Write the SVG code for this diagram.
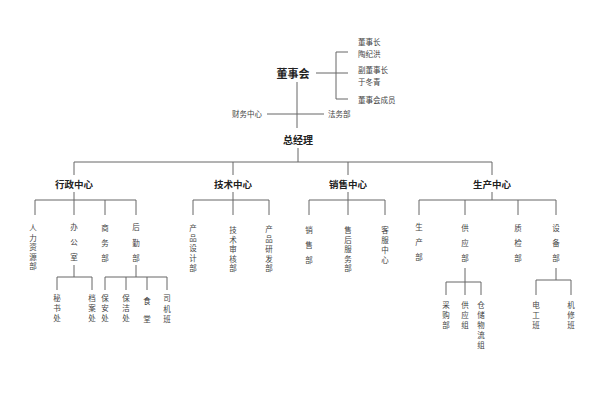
<svg xmlns="http://www.w3.org/2000/svg" width="600" height="415" viewBox="0 0 600 415">
<style>
.ln{stroke:#666;stroke-width:1;fill:none}
.h1{font-family:"Noto Sans CJK SC",sans-serif;font-weight:bold;fill:#222;text-anchor:middle}
.s{font-family:"Noto Sans CJK SC",sans-serif;font-size:7.5px;fill:#444}
.v{font-family:"Noto Sans CJK SC",sans-serif;font-size:7.5px;fill:#444;text-anchor:middle}
</style>
<rect width="600" height="415" fill="#fff"/>
<g id="connectors" class="ln">
<path d="M316,73H348M336,52V99M336,52H348M336,99H348"/>
<path d="M297,82V128M267,114H324"/>
<path d="M298,148V162M74,162H492"/>
<path d="M74,162V175M233,162V175M348,162V175M492,162V175"/>
<path d="M74,192V200M233,192V200M348,192V200M492,192V200"/>
<path d="M35,200H136M35,200V215M74,200V215M105,200V215M136,200V215"/>
<path d="M193,200H269M193,200V215M233,200V215M269,200V215"/>
<path d="M309,200H385M309,200V215M348,200V215M385,200V215"/>
<path d="M419,200H556M419,200V215M465,200V215M518,200V215M556,200V215"/>
<path d="M74,265V277M57,277H92M57,277V290M92,277V290"/>
<path d="M136,265V277M105,277H167M105,277V290M126,277V290M147,277V290M167,277V290"/>
<path d="M465,268V282M446,282H481M446,282V295M465,282V295M481,282V295"/>
<path d="M556,268V280M536,280H571M536,280V295M571,280V295"/>
</g>
<g id="board"><text class="h1" x="293" y="78" font-size="11">董事会</text></g>
<g id="board-members">
<text class="s" x="358" y="45">董事长</text>
<text class="s" x="358" y="57">陶纪洪</text>
<text class="s" x="358" y="73">副董事长</text>
<text class="s" x="358" y="85">于冬青</text>
<text class="s" x="358" y="103">董事会成员</text>
</g>
<g id="finance"><text class="s" x="262" y="117" font-size="8.5" text-anchor="end">财务中心</text></g>
<g id="legal"><text class="s" x="328" y="117" font-size="8.5">法务部</text></g>
<g id="gm"><text class="h1" x="298" y="144" font-size="10">总经理</text></g>
<g id="admin"><text class="h1" x="74" y="187.5" font-size="9.5">行政中心</text></g>
<g id="tech"><text class="h1" x="233" y="187.5" font-size="9.5">技术中心</text></g>
<g id="sales"><text class="h1" x="348" y="187.5" font-size="9.5">销售中心</text></g>
<g id="prod"><text class="h1" x="492" y="187.5" font-size="9.5">生产中心</text></g>
<g id="hr"><text class="v"><tspan x="33" y="231">人</tspan><tspan x="33" y="240.5">力</tspan><tspan x="33" y="250">资</tspan><tspan x="33" y="259.5">源</tspan><tspan x="33" y="269">部</tspan></text></g>
<g id="office"><text class="v"><tspan x="74" y="230">办</tspan><tspan x="74" y="245">公</tspan><tspan x="74" y="260">室</tspan></text></g>
<g id="business"><text class="v"><tspan x="105" y="231">商</tspan><tspan x="105" y="246">务</tspan><tspan x="105" y="261">部</tspan></text></g>
<g id="logistics"><text class="v"><tspan x="136" y="230">后</tspan><tspan x="136" y="246">勤</tspan><tspan x="136" y="261">部</tspan></text></g>
<g id="secretary"><text class="v"><tspan x="57" y="301">秘</tspan><tspan x="57" y="311">书</tspan><tspan x="57" y="321">处</tspan></text></g>
<g id="archive"><text class="v"><tspan x="92" y="301">档</tspan><tspan x="92" y="311">案</tspan><tspan x="92" y="321">处</tspan></text></g>
<g id="security"><text class="v"><tspan x="105" y="301">保</tspan><tspan x="105" y="311">安</tspan><tspan x="105" y="321">处</tspan></text></g>
<g id="cleaning"><text class="v"><tspan x="126" y="301">保</tspan><tspan x="126" y="311">洁</tspan><tspan x="126" y="321">处</tspan></text></g>
<g id="canteen"><text class="v"><tspan x="147" y="304">食</tspan><tspan x="147" y="322">堂</tspan></text></g>
<g id="drivers"><text class="v"><tspan x="167" y="301">司</tspan><tspan x="167" y="312">机</tspan><tspan x="167" y="322">班</tspan></text></g>
<g id="design"><text class="v"><tspan x="193" y="231">产</tspan><tspan x="193" y="241">品</tspan><tspan x="193" y="251">设</tspan><tspan x="193" y="261">计</tspan><tspan x="193" y="271">部</tspan></text></g>
<g id="review"><text class="v"><tspan x="233" y="233">技</tspan><tspan x="233" y="242.5">术</tspan><tspan x="233" y="252">审</tspan><tspan x="233" y="261.5">核</tspan><tspan x="233" y="271">部</tspan></text></g>
<g id="rnd"><text class="v"><tspan x="269" y="232">产</tspan><tspan x="269" y="242">品</tspan><tspan x="269" y="252">研</tspan><tspan x="269" y="261.5">发</tspan><tspan x="269" y="271">部</tspan></text></g>
<g id="salesdept"><text class="v"><tspan x="309" y="233">销</tspan><tspan x="309" y="248">售</tspan><tspan x="309" y="263">部</tspan></text></g>
<g id="aftersales"><text class="v"><tspan x="348" y="233">售</tspan><tspan x="348" y="242.5">后</tspan><tspan x="348" y="252">服</tspan><tspan x="348" y="261.5">务</tspan><tspan x="348" y="271">部</tspan></text></g>
<g id="service"><text class="v"><tspan x="385" y="233">客</tspan><tspan x="385" y="243">服</tspan><tspan x="385" y="253">中</tspan><tspan x="385" y="263">心</tspan></text></g>
<g id="production"><text class="v"><tspan x="419" y="230">生</tspan><tspan x="419" y="245">产</tspan><tspan x="419" y="260">部</tspan></text></g>
<g id="supply"><text class="v"><tspan x="465" y="231">供</tspan><tspan x="465" y="246">应</tspan><tspan x="465" y="261">部</tspan></text></g>
<g id="qc"><text class="v"><tspan x="518" y="231">质</tspan><tspan x="518" y="246">检</tspan><tspan x="518" y="261">部</tspan></text></g>
<g id="equipment"><text class="v"><tspan x="556" y="231">设</tspan><tspan x="556" y="246">备</tspan><tspan x="556" y="261">部</tspan></text></g>
<g id="purchase"><text class="v"><tspan x="446" y="308">采</tspan><tspan x="446" y="318">购</tspan><tspan x="446" y="328">部</tspan></text></g>
<g id="supplygroup"><text class="v"><tspan x="465" y="308">供</tspan><tspan x="465" y="318">应</tspan><tspan x="465" y="328">组</tspan></text></g>
<g id="warehouse"><text class="v"><tspan x="481" y="308">仓</tspan><tspan x="481" y="318">储</tspan><tspan x="481" y="328">物</tspan><tspan x="481" y="338">流</tspan><tspan x="481" y="348">组</tspan></text></g>
<g id="electric"><text class="v"><tspan x="536" y="308">电</tspan><tspan x="536" y="318">工</tspan><tspan x="536" y="328">班</tspan></text></g>
<g id="repair"><text class="v"><tspan x="571" y="308">机</tspan><tspan x="571" y="318">修</tspan><tspan x="571" y="328">班</tspan></text></g>
</svg>
